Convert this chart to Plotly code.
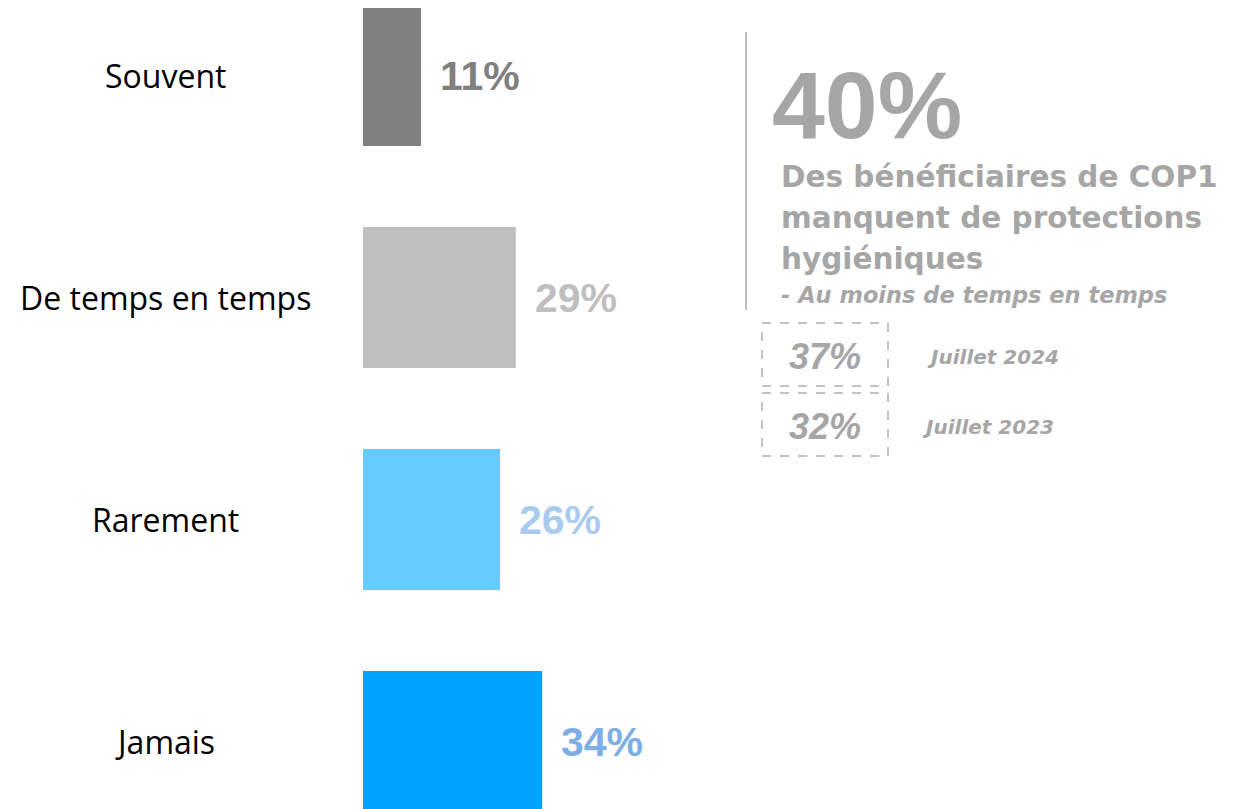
import plotly.graph_objects as go

# ------------------------------------------------------------------
# Data
# ------------------------------------------------------------------

categories = ["Souvent", "De temps en temps", "Rarement", "Jamais"]
values = [11, 29, 26, 34]
bar_colors = ["#808080", "#BFBFBF", "#66CCFF", "#00A3FF"]
label_colors = ["#808080", "#BFBFBF", "#A9CBF0", "#7EAEE6"]

headline_value = "40%"
headline_lines = ["Des bénéficiaires de COP1", "manquent de protections", "hygiéniques"]
headline_note = "- Au moins de temps en temps"
history_values = ["37%", "32%"]
history_labels = ["Juillet 2024", "Juillet 2023"]

GREY = "#A6A6A6"
ARIAL = "Liberation Sans, Arial, sans-serif"
WIDE = "DejaVu Sans, Verdana, sans-serif"
LABEL_FONT = "Open Sans, Noto Sans, sans-serif"

W, H = 1248, 809
PAGE_PAD = 8  # body margin of the page
PX_PER_PCT = 5.27
BAR_LEFT_PX = 363
ROW_PX = 222
FIRST_ROW_PX = 75.5


def px_x(px):
    return (px - PAGE_PAD) / W


def px_y(py):
    return 1 - (py - PAGE_PAD) / H


fig = go.Figure()
fig.add_trace(
    go.Bar(
        x=values,
        y=categories,
        orientation="h",
        marker=dict(color=bar_colors, line=dict(width=0)),
        width=0.635,
        hoverinfo="skip",
    )
)

# value labels next to bars
for cat, val, col in zip(categories, values, label_colors):
    fig.add_annotation(
        x=val, y=cat, xref="x", yref="y",
        text=f"<b>{val}%</b>", showarrow=False,
        xanchor="left", xshift=17,
        font=dict(family=ARIAL, size=41, color=col),
    )

# category labels, centred in the left column
for cat in categories:
    fig.add_annotation(
        x=px_x(165), y=cat, xref="paper", yref="y",
        text=cat, showarrow=False, xanchor="center",
        font=dict(family=LABEL_FONT, size=32, color="#000000"),
    )

# right panel: big number and text
fig.add_shape(
    type="line", xref="paper", yref="paper",
    x0=px_x(746), x1=px_x(746), y0=px_y(32), y1=px_y(310),
    line=dict(color="#BFBFBF", width=2),
)
fig.add_annotation(
    x=px_x(770), y=px_y(105), xref="paper", yref="paper",
    text=f"<b>{headline_value}</b>", showarrow=False,
    xanchor="left", yanchor="middle",
    font=dict(family=ARIAL, size=95, color=GREY),
)
for i, line in enumerate(headline_lines):
    fig.add_annotation(
        x=px_x(779), y=px_y(177 + i * 41), xref="paper", yref="paper",
        text=f"<b>{line}</b>", showarrow=False,
        xanchor="left", yanchor="middle",
        font=dict(family=WIDE, size=29.5, color=GREY),
    )
fig.add_annotation(
    x=px_x(779), y=px_y(295), xref="paper", yref="paper",
    text=f"<b><i>{headline_note}</i></b>", showarrow=False,
    xanchor="left", yanchor="middle",
    font=dict(family=WIDE, size=22.5, color=GREY),
)

# history boxes
box_tops = [323, 393]
box_label_x = [925, 920]
for top, val, lab, lx in zip(box_tops, history_values, history_labels, box_label_x):
    fig.add_shape(
        type="rect", xref="paper", yref="paper",
        x0=px_x(762), x1=px_x(888), y0=px_y(top), y1=px_y(top + 63),
        line=dict(color="#AFAFAF", width=1.5, dash="dash"),
    )
    fig.add_annotation(
        x=px_x(825), y=px_y(top + 33), xref="paper", yref="paper",
        text=f"<b><i>{val}</i></b>", showarrow=False,
        xanchor="center", yanchor="middle",
        font=dict(family=ARIAL, size=36, color=GREY),
    )
    fig.add_annotation(
        x=px_x(lx), y=px_y(top + 34), xref="paper", yref="paper",
        text=f"<b><i>{lab}</i></b>", showarrow=False,
        xanchor="left", yanchor="middle",
        font=dict(family=WIDE, size=20, color=GREY),
    )

x_min = -(BAR_LEFT_PX - PAGE_PAD) / PX_PER_PCT
x_max = (W + PAGE_PAD - BAR_LEFT_PX) / PX_PER_PCT
y_top = -(FIRST_ROW_PX - PAGE_PAD) / ROW_PX
y_bottom = (H + PAGE_PAD - FIRST_ROW_PX) / ROW_PX

fig.update_layout(
    width=W,
    height=H,
    margin=dict(l=0, r=0, t=0, b=0),
    paper_bgcolor="white",
    plot_bgcolor="white",
    showlegend=False,
    xaxis=dict(range=[x_min, x_max], visible=False, fixedrange=True),
    yaxis=dict(
        range=[y_bottom, y_top],
        categoryorder="array",
        categoryarray=categories,
        visible=False,
        fixedrange=True,
    ),
)

fig.write_html("out.html", config={"displayModeBar": False})
